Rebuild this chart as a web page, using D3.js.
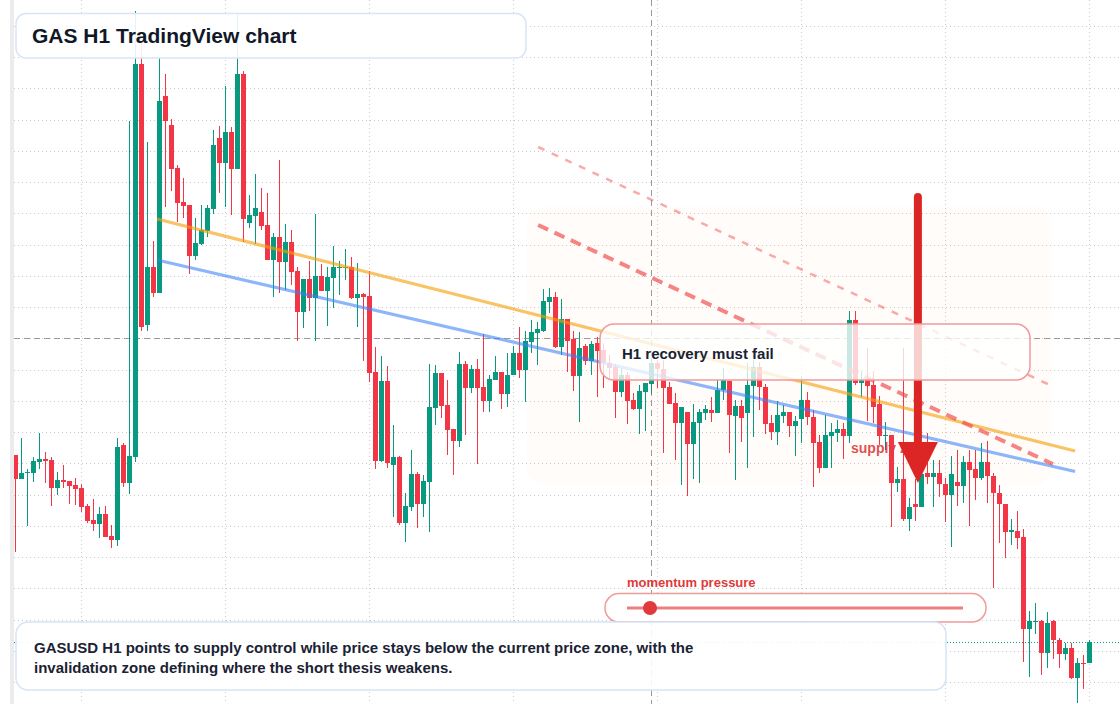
<!DOCTYPE html>
<html><head><meta charset="utf-8">
<script src="https://cdn.jsdelivr.net/npm/d3@7"></script>
<style>
html,body{margin:0;padding:0;background:#fff;}
svg{display:block;font-family:"Liberation Sans",Arial,Helvetica,sans-serif;}
</style></head><body>
<svg id="chart" width="1120" height="704"></svg>
<script>
// GASUSD H1 candles (price units)
const opens = [4.45,4.21,4.27,4.27,4.38,4.41,4.40,4.12,4.20,4.19,
4.15,4.12,3.94,3.80,3.76,3.86,3.64,3.60,4.55,4.17,
4.43,8.36,5.75,6.33,6.07,8.04,7.75,7.32,6.98,6.95,
6.44,6.56,6.69,6.91,7.62,7.37,7.68,7.31,8.26,6.77,
6.84,6.88,6.75,6.40,6.63,6.38,6.58,6.29,5.88,6.21,
6.02,6.24,6.09,6.22,6.32,6.32,6.33,6.02,6.06,6.04,
5.28,4.39,5.19,4.35,4.43,3.77,3.93,4.26,3.96,4.18,
4.92,5.27,4.95,4.71,4.59,5.36,5.12,5.31,5.13,4.99,
5.20,5.28,5.06,5.25,5.47,5.30,5.58,5.67,5.69,5.98,
6.03,5.53,5.81,5.61,5.24,5.54,5.39,5.57,5.50,5.37,
5.33,5.08,5.25,5.00,4.91,5.08,5.16,5.37,5.31,5.13,
4.97,4.77,4.88,4.56,4.77,4.87,4.90,4.87,5.10,5.19,
4.84,4.94,4.87,5.14,5.33,5.13,4.77,4.68,4.84,4.88,
4.74,4.81,5.00,4.83,4.58,4.32,4.64,4.67,4.71,4.64,
5.80,5.17,5.21,5.15,4.96,4.64,4.65,4.17,4.21,3.81,
3.96,3.93,4.27,4.23,4.27,4.16,4.05,4.18,4.14,4.38,
4.31,4.22,4.38,4.24,4.07,3.96,3.68,3.69,3.63,2.71,
2.78,2.79,2.47,2.79,2.60,2.46,2.52,2.22,2.37,2.37];
const highs = [4.45,4.62,4.31,4.43,4.67,4.48,4.43,4.28,4.35,4.19,
4.22,4.16,3.96,4.01,3.93,3.94,3.75,4.62,4.57,7.79,
8.89,8.57,7.58,6.59,8.42,8.26,7.81,7.35,7.22,6.95,
6.82,6.95,6.95,7.70,7.74,8.14,7.73,8.87,8.29,7.05,
7.26,7.12,7.07,6.67,7.40,6.76,6.70,6.33,6.21,6.39,
6.86,6.36,6.33,6.54,6.39,6.51,6.43,6.37,6.07,6.29,
5.53,5.44,5.34,4.75,4.44,4.07,4.50,4.28,4.25,5.36,
5.35,5.27,5.20,4.71,5.48,5.39,5.35,5.41,5.66,5.25,
5.44,5.28,5.47,5.54,5.73,5.69,5.80,5.78,6.11,6.12,
6.08,6.01,5.81,5.69,5.68,5.56,5.59,5.63,5.57,5.45,
5.36,5.32,5.28,5.07,5.15,5.17,5.42,5.40,5.40,5.18,
5.07,4.93,4.88,4.96,4.91,4.95,5.03,5.20,5.32,5.20,
5.00,5.00,5.37,5.40,5.38,5.16,4.85,4.99,4.95,4.88,
4.84,5.23,5.08,4.90,4.65,4.85,4.77,4.80,4.77,5.89,
5.89,5.29,5.52,5.29,5.04,4.78,4.65,4.33,5.52,4.02,
4.21,4.35,4.67,4.40,4.40,4.22,4.44,4.50,4.44,4.50,
4.50,4.57,4.59,4.27,4.15,3.96,3.81,3.89,3.71,2.89,
2.97,2.80,2.88,2.80,2.62,2.57,2.57,2.42,2.45,2.60];
const lows = [3.48,4.21,3.74,4.18,4.31,4.17,3.94,4.05,4.12,3.96,
3.95,3.88,3.77,3.69,3.62,3.63,3.52,3.54,4.13,4.06,
4.38,5.69,5.69,6.03,6.07,6.93,7.09,6.78,6.82,6.26,
6.40,6.55,6.63,6.86,7.07,6.93,6.85,7.31,6.58,6.72,
6.56,6.70,6.40,6.03,6.07,6.10,6.15,5.59,5.72,5.89,
5.59,6.09,5.74,5.92,6.05,6.20,6.01,5.73,5.39,5.18,
4.31,4.38,4.32,3.83,3.75,3.58,3.89,3.72,3.83,3.68,
4.75,4.82,4.45,4.25,4.53,4.65,5.07,4.36,4.88,4.88,
5.20,4.91,4.93,5.25,5.22,4.98,5.47,5.35,5.68,5.87,
5.52,5.45,5.28,5.09,4.78,5.35,5.25,5.03,5.12,5.20,
4.82,5.03,4.76,4.90,4.66,4.69,5.06,5.12,4.47,4.96,
4.40,4.15,4.04,4.21,4.17,4.80,4.78,4.87,5.00,4.47,
4.20,4.58,4.32,4.63,4.90,4.66,4.60,4.55,4.77,4.63,
4.44,4.57,4.75,4.13,4.27,4.32,4.32,4.58,4.41,4.57,
5.15,5.03,4.79,4.77,4.55,4.50,3.73,4.08,3.79,3.69,
3.79,3.93,4.16,3.93,4.03,3.78,3.53,3.94,3.97,3.74,
4.00,4.20,3.97,3.12,3.57,3.42,3.55,3.51,2.38,2.23,
2.66,2.25,2.32,2.41,2.32,2.40,2.21,1.97,2.11,2.37];
const closes = [4.21,4.27,4.28,4.39,4.41,4.39,4.12,4.20,4.18,4.14,
4.11,3.93,3.79,3.76,3.86,3.63,3.60,4.53,4.17,4.44,
8.36,5.73,6.33,6.07,7.99,7.79,7.31,6.97,6.94,6.44,
6.57,6.70,6.92,7.55,7.37,7.68,7.31,8.26,6.81,6.85,
6.92,6.74,6.40,6.63,6.38,6.58,6.28,5.88,6.21,6.02,
6.24,6.09,6.23,6.33,6.33,6.33,6.02,6.06,6.03,5.27,
4.39,5.19,4.37,4.43,3.77,3.94,4.26,3.96,4.19,4.93,
5.27,4.94,4.70,4.59,5.36,5.12,5.31,5.12,4.99,5.21,
5.28,5.06,5.25,5.47,5.30,5.59,5.68,5.71,5.99,6.03,
5.53,5.81,5.59,5.24,5.52,5.39,5.56,5.49,5.37,5.32,
5.08,5.25,4.99,4.91,5.09,5.17,5.37,5.31,5.12,4.96,
4.77,4.93,4.56,4.78,4.88,4.91,4.87,5.10,5.20,4.85,
4.94,4.82,5.15,5.33,5.13,4.76,4.68,4.85,4.88,4.74,
4.79,5.00,4.83,4.57,4.32,4.65,4.68,4.71,4.64,5.80,
5.17,5.20,5.14,4.93,4.64,4.65,4.17,4.21,3.81,3.93,
3.93,4.26,4.23,4.27,4.16,4.05,4.26,4.14,4.38,4.30,
4.22,4.38,4.24,4.07,3.96,3.68,3.70,3.62,2.71,2.79,
2.79,2.47,2.77,2.60,2.46,2.52,2.22,2.37,2.36,2.58];

// annotations in (candle index, price)
const orangeTrend = [[23.6, 6.81], [176.6, 4.49]];
const blueTrend   = [[23.6, 6.40], [176.6, 4.285]];
const redDash     = [[87.1, 6.75], [172.9, 4.36]];
const lightDash   = [[87.1, 7.53], [172.75, 5.14]];
const supplyZone  = {i0: 85.2, i1: 172.8, top: 6.93, bottom: 4.15};
const crossIndex = 106, crossPrice = 5.62;
const arrow = {i: 150.4, from: 7.03, head: 4.58, tip: 4.17};

const titleText = "GAS H1 TradingView chart";
const calloutText = "H1 recovery must fail";
const zoneLabel = "supply zone";
const momentumLabel = "momentum pressure";
const noteLines = ["GASUSD H1 points to supply control while price stays below the current price zone, with the",
                   "invalidation zone defining where the short thesis weakens."];

const UP = "#089981", DOWN = "#f23645";
const svg = d3.select("#chart");
const n = closes.length;
const x = d3.scaleLinear().domain([0, n - 1]).range([15.5, 1089.5]);
const y = d3.scaleLinear().domain([2, 9]).range([700, 0]);
const bodyW = 5;

svg.append("rect").attr("width", 1120).attr("height", 704).attr("fill", "#fff");
svg.append("rect").attr("x", 10).attr("y", 0).attr("width", 4).attr("height", 704).attr("fill", "#ececec");

const defs = svg.append("defs");
defs.append("clipPath").attr("id", "plot").append("rect")
  .attr("x", 14).attr("y", 0).attr("width", 1106).attr("height", 704);

const plot = svg.append("g").attr("clip-path", "url(#plot)");

// grid
const gridPrices = d3.range(22).map(k => 8.742 - 0.3125 * k);
const gridIdx = d3.range(11, n, 24);
plot.append("g").selectAll("line").data(gridPrices).join("line")
  .attr("x1", 14).attr("x2", 1120)
  .attr("y1", d => Math.round(y(d)) + 0.5).attr("y2", d => Math.round(y(d)) + 0.5)
  .attr("stroke", "#cbcbcb").attr("stroke-dasharray", "1,3");
plot.append("g").selectAll("line").data(gridIdx).join("line")
  .attr("x1", d => x(d)).attr("x2", d => x(d))
  .attr("y1", 0).attr("y2", 704)
  .attr("stroke", "#cbcbcb").attr("stroke-dasharray", "1,3");

// supply zone
plot.append("rect")
  .attr("x", x(supplyZone.i0)).attr("y", y(supplyZone.top))
  .attr("width", x(supplyZone.i1) - x(supplyZone.i0))
  .attr("height", y(supplyZone.bottom) - y(supplyZone.top))
  .attr("rx", 18).attr("fill", "rgba(249,115,22,0.022)");

// crosshair
plot.append("line").attr("x1", 14).attr("x2", 1120)
  .attr("y1", Math.round(y(crossPrice)) + 0.5).attr("y2", Math.round(y(crossPrice)) + 0.5)
  .attr("stroke", "#9a9a9a").attr("stroke-dasharray", "6,4");
plot.append("line").attr("x1", x(crossIndex)).attr("x2", x(crossIndex))
  .attr("y1", 0).attr("y2", 704)
  .attr("stroke", "#9a9a9a").attr("stroke-dasharray", "6,4");

// last price line
const last = closes[n - 1];
plot.append("line").attr("x1", 14).attr("x2", 1120)
  .attr("y1", Math.round(y(last)) + 0.5).attr("y2", Math.round(y(last)) + 0.5)
  .attr("stroke", UP).attr("stroke-dasharray", "1,2");

// candles
const data = d3.range(n).map(i => ({i, o: opens[i], h: highs[i], l: lows[i], c: closes[i]}));
const cg = plot.append("g").selectAll("g").data(data).join("g");
cg.append("line")
  .attr("x1", d => x(d.i)).attr("x2", d => x(d.i))
  .attr("y1", d => y(d.h)).attr("y2", d => y(d.l))
  .attr("stroke", d => d.c >= d.o ? UP : DOWN).attr("stroke-width", 1);
cg.append("rect")
  .attr("x", d => x(d.i) - bodyW / 2)
  .attr("y", d => y(Math.max(d.o, d.c)))
  .attr("width", bodyW)
  .attr("height", d => Math.max(1, Math.abs(y(d.o) - y(d.c))))
  .attr("fill", d => d.c >= d.o ? UP : DOWN);

// trend lines
const seg = (g, pts, color, op, w, dash) => g.append("line")
  .attr("x1", x(pts[0][0])).attr("y1", y(pts[0][1]))
  .attr("x2", x(pts[1][0])).attr("y2", y(pts[1][1]))
  .attr("stroke", color).attr("stroke-opacity", op).attr("stroke-width", w)
  .attr("stroke-dasharray", dash || null);
seg(plot, orangeTrend, "#f59e0b", 0.62, 3.2);
seg(plot, blueTrend, "#3b82f6", 0.58, 3.2);
seg(plot, lightDash, "#ef4444", 0.45, 2.5, "7,8");
seg(plot, redDash, "#ef4444", 0.65, 4, "11,7");

// supply zone label
svg.append("text").attr("x", 851).attr("y", 453)
  .attr("font-size", 14).attr("font-weight", 700)
  .attr("fill", "#e03e3e").attr("fill-opacity", 0.92).text(zoneLabel);

// arrow
const ax = x(arrow.i);
svg.append("line").attr("x1", ax).attr("x2", ax)
  .attr("y1", y(arrow.from)).attr("y2", y(arrow.head) + 2)
  .attr("stroke", "#dc2626").attr("stroke-width", 8).attr("stroke-linecap", "round");
svg.append("path")
  .attr("d", `M${ax - 20},${y(arrow.head)} L${ax + 20},${y(arrow.head)} L${ax},${y(arrow.tip)} Z`)
  .attr("fill", "#dc2626");

// callout box
svg.append("rect").attr("x", 600).attr("y", 324).attr("width", 430).attr("height", 56)
  .attr("rx", 14).attr("fill", "#fff").attr("fill-opacity", 0.78)
  .attr("stroke", "#f09a9a").attr("stroke-width", 1.5);
svg.append("text").attr("x", 622).attr("y", 359)
  .attr("font-size", 15).attr("font-weight", 700).attr("fill", "#1a2233").text(calloutText);

// title box
svg.append("rect").attr("x", 16).attr("y", 13.5).attr("width", 510).attr("height", 44.5)
  .attr("rx", 10).attr("fill", "#fff").attr("fill-opacity", 0.9)
  .attr("stroke", "#d9e5f7").attr("stroke-width", 1.5);
svg.append("text").attr("x", 32).attr("y", 43)
  .attr("font-size", 21).attr("font-weight", 700).attr("fill", "#111827").text(titleText);

// momentum pill
svg.append("text").attr("x", 627).attr("y", 587)
  .attr("font-size", 13).attr("font-weight", 700).attr("fill", "#e03a3a").text(momentumLabel);
svg.append("rect").attr("x", 605).attr("y", 593.5).attr("width", 381).attr("height", 28.5)
  .attr("rx", 14).attr("fill", "#fff").attr("fill-opacity", 0.9)
  .attr("stroke", "#f09a9a").attr("stroke-width", 1.5);
svg.append("line").attr("x1", 627).attr("x2", 963).attr("y1", 608).attr("y2", 608)
  .attr("stroke", "#ee7f7f").attr("stroke-width", 3);
svg.append("circle").attr("cx", 650).attr("cy", 608).attr("r", 7).attr("fill", "#e03a3a");

// note box
svg.append("rect").attr("x", 16).attr("y", 622).attr("width", 930).attr("height", 68)
  .attr("rx", 12).attr("fill", "#fff").attr("fill-opacity", 0.9)
  .attr("stroke", "#d6e3f7").attr("stroke-width", 1.5);
svg.append("g").selectAll("text").data(noteLines).join("text")
  .attr("x", 34).attr("y", (d, k) => 653 + k * 20)
  .attr("font-size", 15).attr("font-weight", 700).attr("fill", "#1a2233").text(d => d);
</script>
</body></html>
